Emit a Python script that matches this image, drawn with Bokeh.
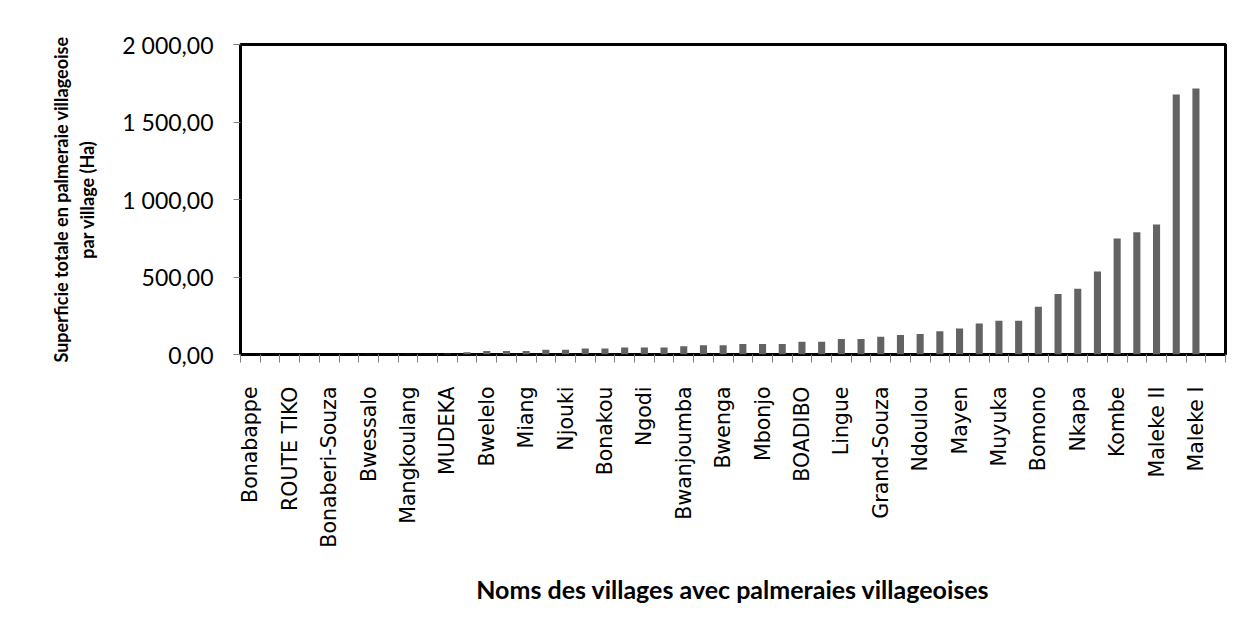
import math
from bokeh.plotting import figure
from bokeh.models import FixedTicker, Range1d
from bokeh.embed import file_html
from bokeh.resources import INLINE

# Village names shown on the axis (every other category is labelled)
shown_labels = ["Bonabappe", "ROUTE TIKO", "Bonaberi-Souza", "Bwessalo", "Mangkoulang",
                "MUDEKA", "Bwelelo", "Miang", "Njouki", "Bonakou", "Ngodi", "Bwanjoumba",
                "Bwenga", "Mbonjo", "BOADIBO", "Lingue", "Grand-Souza", "Ndoulou", "Mayen",
                "Muyuka", "Bomono", "Nkapa", "Kombe", "Maleke II", "Maleke I"]

# Superficie (Ha) for each of the 49 villages, in axis order
values = [0.2, 0.3, 0.4, 0.5, 0.6, 0.8, 1.0, 1.2, 1.5, 2.0,
          5, 15, 22, 22, 22, 30, 30, 39, 39, 45,
          45, 45, 54, 60, 60, 67, 67, 67, 83, 83,
          100, 100, 115, 126, 133, 150, 167, 200, 218, 218,
          308, 391, 425, 535, 748, 789, 839, 1677, 1716]

n_slots = 50  # category slots on the axis (last one empty)

y_ticks = [0, 500, 1000, 1500, 2000]
y_tick_labels = ["0,00", "500,00", "1 000,00", "1 500,00", "2 000,00"]

x_centers = [i + 0.5 for i in range(len(values))]
label_pos = [2 * k + 0.5 for k in range(len(shown_labels))]

W, H = 1242, 624
p = figure(width=W, height=H,
           x_range=Range1d(0, n_slots), y_range=Range1d(0, 2000),
           output_backend="svg", toolbar_location=None,
           min_border_left=240, min_border_right=17,
           min_border_top=44, min_border_bottom=270)

p.vbar(x=x_centers, top=values, width=0.36, fill_color="#636363", line_color=None)

p.xgrid.visible = False
p.ygrid.visible = False
p.background_fill_color = "white"
p.border_fill_color = "white"
p.outline_line_color = "black"
p.outline_line_width = 3

# X axis
xa = p.xaxis[0]
xa.ticker = FixedTicker(ticks=label_pos, minor_ticks=list(range(0, n_slots + 1)))
xa.major_label_overrides = {pos: lab for pos, lab in zip(label_pos, shown_labels)}
xa.major_label_orientation = math.pi / 2
xa.major_tick_line_color = None
xa.major_tick_out = 8
xa.major_tick_in = 0
xa.minor_tick_line_color = "#808080"
xa.minor_tick_out = 8
xa.minor_tick_in = 0
xa.axis_line_color = None
xa.major_label_standoff = 24
xa.major_label_text_font = "DejaVu Sans"
xa.major_label_text_font_size = "20.5px"
xa.major_label_text_color = "black"
xa.axis_label = "Noms des villages avec palmeraies villageoises"
xa.axis_label_text_font = "Lato"
xa.axis_label_text_font_style = "bold"
xa.axis_label_text_font_size = "25px"
xa.axis_label_text_color = "black"
xa.axis_label_standoff = 23

# Y axis
ya = p.yaxis[0]
ya.ticker = FixedTicker(ticks=y_ticks, minor_ticks=[])
ya.major_label_overrides = {t: lab for t, lab in zip(y_ticks, y_tick_labels)}
ya.major_tick_line_color = "#808080"
ya.major_tick_out = 7
ya.major_tick_in = 0
ya.minor_tick_line_color = None
ya.axis_line_color = None
ya.major_label_standoff = 20
ya.major_label_text_font = "Lato"
ya.major_label_text_font_size = "23px"
ya.major_label_text_color = "black"
ya.axis_label = "Superficie totale en palmeraie villageoise\npar village (Ha)"
ya.axis_label_text_font = "Lato"
ya.axis_label_text_font_style = "bold"
ya.axis_label_text_font_size = "18px"
ya.axis_label_text_color = "black"
ya.axis_label_standoff = 21

open("out.html", "w").write(file_html(p, INLINE))
